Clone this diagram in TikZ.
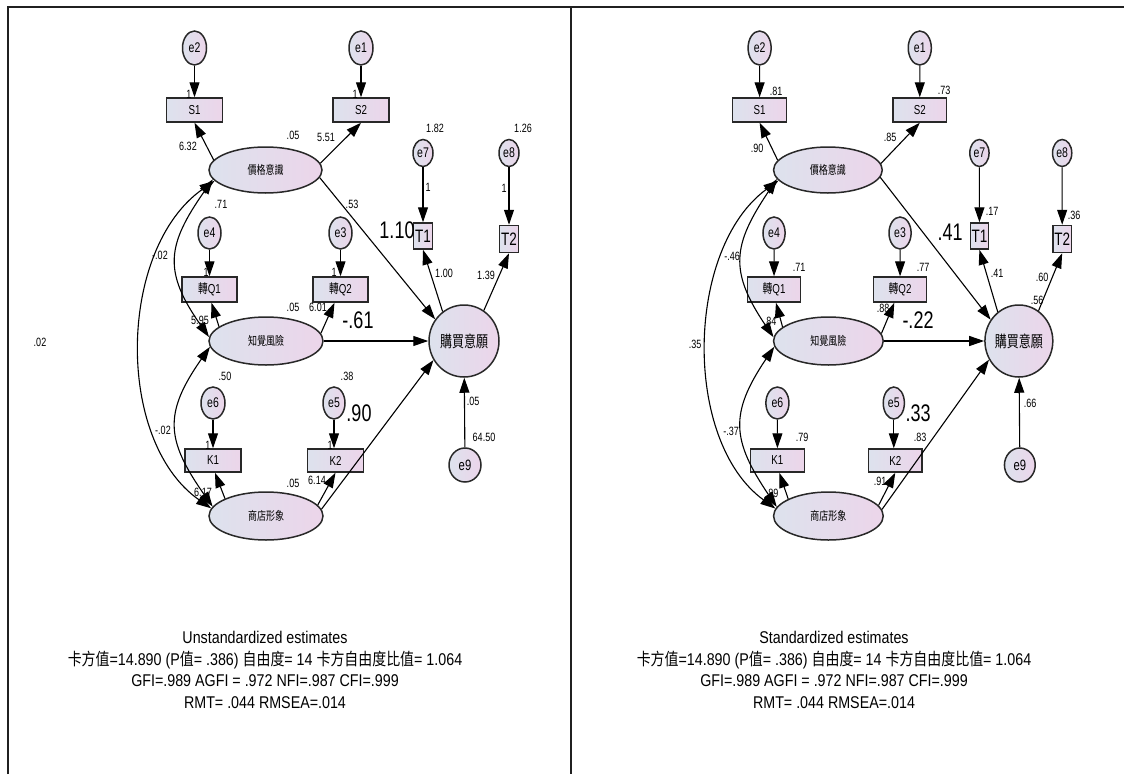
\documentclass[tikz,border=0pt]{standalone}
\usepackage{fontspec}
\setmainfont{Liberation Sans}
\newfontfamily\lblfont{Liberation Sans}[FakeStretch=0.75]
\newfontfamily\capfont{Liberation Sans}[FakeStretch=0.84]
\newfontfamily\cjkfont{Noto Sans CJK TC}[FakeStretch=0.75]
\newfontfamily\cjkcap{Noto Sans CJK TC}[FakeStretch=0.82]
\usetikzlibrary{arrows.meta,shapes.geometric}

\definecolor{gradL}{RGB}{221,226,237}
\definecolor{gradR}{RGB}{236,213,234}
\definecolor{edgegray}{RGB}{40,40,40}
\definecolor{framegray}{RGB}{32,32,32}

\tikzset{
  shaded/.style={draw=edgegray, line width=1.5pt, left color=gradL, right color=gradR, inner sep=0pt},
  latent/.style={shaded, ellipse, font=\cjkfont\fontsize{12}{13}\selectfont},
  outcome/.style={shaded, ellipse, font=\cjkfont\fontsize{16}{17}\selectfont},
  indicator/.style={shaded, rectangle, font=\lblfont\fontsize{13}{14}\selectfont},
  tallbox/.style={shaded, rectangle, font=\lblfont\fontsize{18}{19}\selectfont},
  errvar/.style={shaded, ellipse, font=\lblfont\fontsize{14}{15}\selectfont},
  link/.style={-{Triangle[length=15pt,width=10pt]}, line width=1.1pt, draw=black},
  covlink/.style={{Triangle[length=15pt,width=10pt]}-{Triangle[length=15pt,width=10pt]}, line width=1.1pt, draw=black},
  est/.style={font=\lblfont\fontsize{12}{13}\selectfont, inner sep=0pt},
  bigest/.style={font=\lblfont\fontsize{24}{26}\selectfont, inner sep=0pt},
  captext/.style={font=\capfont\fontsize{17}{21.8}\selectfont, align=center, inner sep=0pt},
  framerule/.style={line width=2.2pt, draw=framegray},
}

% Structural equation model: nodes and paths; #1 = name prefix, #2 = horizontal size factor
\newcommand\semmodel[2]{%
  \node[errvar, minimum width=#2*24pt, minimum height=34pt] (#1e2) at (194.5,48) {e2};
  \node[errvar, minimum width=#2*24pt, minimum height=34pt] (#1e1) at (361,48) {e1};
  \node[indicator, minimum width=#2*56pt, minimum height=24pt] (#1S1) at (194.5,110) {S1};
  \node[indicator, minimum width=#2*56pt, minimum height=24pt] (#1S2) at (361,110) {S2};
  \node[latent, minimum width=#2*113pt, minimum height=46pt] (#1pk) at (265.5,170) {價格意識};
  \node[errvar, minimum width=#2*23pt, minimum height=32pt] (#1e4) at (209.5,233) {e4};
  \node[errvar, minimum width=#2*23pt, minimum height=32pt] (#1e3) at (340.5,233) {e3};
  \node[indicator, minimum width=#2*55pt, minimum height=25pt] (#1Q1) at (209.5,289.5) {{\cjkfont 轉}Q1};
  \node[indicator, minimum width=#2*55pt, minimum height=25pt] (#1Q2) at (340.5,289.5) {{\cjkfont 轉}Q2};
  \node[latent, minimum width=#2*114pt, minimum height=48pt] (#1pr) at (266,341) {知覺風險};
  \node[errvar, minimum width=#2*24pt, minimum height=32pt] (#1e6) at (213,403) {e6};
  \node[errvar, minimum width=#2*22pt, minimum height=32pt] (#1e5) at (334,403) {e5};
  \node[indicator, minimum width=#2*56pt, minimum height=23pt] (#1K1) at (213,460.5) {K1};
  \node[indicator, minimum width=#2*56pt, minimum height=23pt] (#1K2) at (335.5,460.5) {K2};
  \node[latent, minimum width=#2*114pt, minimum height=48pt] (#1ps) at (266,516) {商店形象};
  \node[errvar, minimum width=#2*20pt, minimum height=27pt] (#1e7) at (423,153) {e7};
  \node[errvar, minimum width=#2*20pt, minimum height=27pt] (#1e8) at (509,153) {e8};
  \node[tallbox, minimum width=#2*19pt, minimum height=26pt] (#1T1) at (423,236) {T1};
  \node[tallbox, minimum width=#2*19pt, minimum height=27pt] (#1T2) at (509,239) {T2};
  \node[outcome, minimum width=#2*70pt, minimum height=72pt] (#1pu) at (464,341) {購買意願};
  \node[errvar, minimum width=#2*32pt, minimum height=34pt, font=\lblfont\fontsize{15}{16}\selectfont] (#1e9) at (465,465) {e9};
  % measurement paths
  \draw[link] (#1e2) -- (#1S1);
  \draw[link] (#1e1) -- (#1S2);
  \draw[link] (#1pk.169) -- (#1S1.south);
  \draw[link] (#1pk.7) -- (#1S2.south);
  \draw[link] (#1e4) -- (#1Q1);
  \draw[link] (#1e3) -- (#1Q2);
  \draw[link] (#1pr.163) -- ([xshift=2pt]#1Q1.south);
  \draw[link] (#1pr.8) -- ([xshift=-6pt]#1Q2.south);
  \draw[link] (#1e6) -- (#1K1);
  \draw[link] (#1e5.south) -- (#1e5.south |- #1K2.north);
  \draw[link] (#1ps.157) -- ([xshift=2pt]#1K1.south);
  \draw[link] (#1ps.12) -- (#1K2.south);
  \draw[link] (#1pu.126) -- (#1T1.south);
  \draw[link] (#1pu.57) -- (#1T2.south);
  \draw[link] (#1e7) -- (#1T1);
  \draw[link] (#1e8) -- (#1T2);
  % structural paths
  \draw[link] (#1pk.352) -- (#1pu.143);
  \draw[link] (#1pr) -- (#1pu);
  \draw[link] (#1ps.7) -- (#1pu.212);
  \draw[link] (#1e9) -- (#1pu);
  % covariances
  \draw[covlink] (#1pk.190) to[out=235,in=125,looseness=1.3] (#1pr.176);
  \draw[covlink] (#1pk.192) to[out=215,in=145,looseness=0.92] (#1ps.172);
  \draw[covlink] (#1pr.186) to[out=235,in=125,looseness=1.3] (#1ps.170);
}

\begin{document}
\begin{tikzpicture}[x=1pt,y=-1pt]
\useasboundingbox (0,0) rectangle (1124,774);
% panel frame
\draw[framerule] (8,774) -- (8,7) -- (1124,7);
\draw[framerule] (571,7) -- (571,774);

% left panel: unstandardized
\semmodel{u}{1}
\node[est] (u01) at (189,94.5) {1};
\node[est] (u02) at (355,94.5) {1};
\node[est] (u03) at (188,146) {6.32};
\node[est] (u04) at (293,135) {.05};
\node[est] (u05) at (326,137) {5.51};
\node[est] (u06) at (435,128) {1.82};
\node[est] (u07) at (523,128) {1.26};
\node[est] (u08) at (428,187) {1};
\node[est] (u09) at (504,188) {1};
\node[est] (u10) at (221,204) {.71};
\node[est] (u11) at (352,204) {.53};
\node[est] (u12) at (160,255) {-.02};
\node[est] (u13) at (206,272) {1};
\node[est] (u14) at (334,272) {1};
\node[est] (u15) at (444,273) {1.00};
\node[est] (u16) at (486,275) {1.39};
\node[est] (u17) at (200,320) {5.95};
\node[est] (u18) at (293,307) {.05};
\node[est] (u19) at (318,307) {6.01};
\node[est] (u20) at (40,342) {.02};
\node[est] (u21) at (225,376) {.50};
\node[est] (u22) at (347,376) {.38};
\node[est] (u23) at (473,401) {.05};
\node[est] (u24) at (163,430) {-.02};
\node[est] (u25) at (484,437) {64.50};
\node[est] (u26) at (208,445) {1};
\node[est] (u27) at (330,445) {1};
\node[est] (u28) at (293,483) {.05};
\node[est] (u29) at (317,480) {6.14};
\node[est] (u30) at (203,492) {6.17};
\node[bigest] (u31) at (397,230) {1.10};
\node[bigest] (u32) at (358,320) {-.61};
\node[bigest] (u33) at (359,413) {.90};
\node[captext] (capU) at (265,670) {Unstandardized estimates\\
{\cjkcap 卡方值}=14.890 (P{\cjkcap 值}= .386) {\cjkcap 自由度}= 14 {\cjkcap 卡方自由度比值}= 1.064\\
GFI=.989 AGFI = .972 NFI=.987 CFI=.999\\
RMT= .044 RMSEA=.014};

% right panel: standardized
\begin{scope}[xshift=572.5pt, xscale=0.962]
\semmodel{s}{0.962}
\end{scope}
\node[est] (s01) at (776,91) {.81};
\node[est] (s02) at (944,90) {.73};
\node[est] (s03) at (757,148) {.90};
\node[est] (s04) at (890,137) {.85};
\node[est] (s05) at (992,211) {.17};
\node[est] (s06) at (1074,215) {.36};
\node[est] (s07) at (732,256) {-.46};
\node[est] (s08) at (799,267) {.71};
\node[est] (s09) at (923,267) {.77};
\node[est] (s10) at (997,273) {.41};
\node[est] (s11) at (1042,277) {.60};
\node[est] (s12) at (1037,300) {.56};
\node[est] (s13) at (883,308) {.88};
\node[est] (s14) at (770,321) {.84};
\node[est] (s15) at (695,344) {.35};
\node[est] (s16) at (1030,403) {.66};
\node[est] (s17) at (731,431) {-.37};
\node[est] (s18) at (802,437) {.79};
\node[est] (s19) at (920,437) {.83};
\node[est] (s20) at (880,481) {.91};
\node[est] (s21) at (772,493) {.89};
\node[bigest] (s22) at (950,232) {.41};
\node[bigest] (s23) at (918,320) {-.22};
\node[bigest] (s24) at (918,413) {.33};
\node[captext] (capS) at (834,670) {Standardized estimates\\
{\cjkcap 卡方值}=14.890 (P{\cjkcap 值}= .386) {\cjkcap 自由度}= 14 {\cjkcap 卡方自由度比值}= 1.064\\
GFI=.989 AGFI = .972 NFI=.987 CFI=.999\\
RMT= .044 RMSEA=.014};
\end{tikzpicture}
\end{document}
